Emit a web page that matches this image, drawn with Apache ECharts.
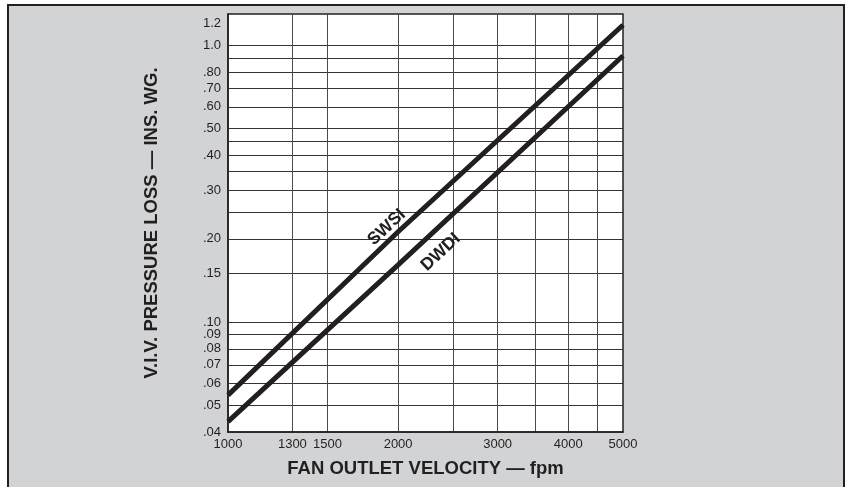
<!DOCTYPE html>
<html><head><meta charset="utf-8">
<script src="https://cdn.jsdelivr.net/npm/echarts@6/dist/echarts.min.js"></script>
<style>
html,body{margin:0;padding:0;background:#fff;}
#frame{position:absolute;left:7px;top:4px;width:838px;height:490px;background:#d2d3d5;border-left:2px solid #231f20;border-top:2.5px solid #231f20;border-right:2px solid #231f20;box-sizing:border-box;}
#chart{position:absolute;left:0;top:0;width:846px;height:487px;}
</style></head><body>
<div id="frame"></div><div id="chart"></div>
<script>
// Data
const velocity = [1000, 2000, 5000];            // fpm
const swsiLoss = [0.0544, 0.212, 1.186];        // ins. wg.
const dwdiLoss = [0.0436, 0.161, 0.918];        // ins. wg.
const xTickLabels = [1000, 1300, 1500, 2000, 3000, 4000, 5000];
const xGridValues = [1300, 1500, 2000, 2500, 3000, 3500, 4000, 4500];
const yTickValues = [0.04, 0.05, 0.06, 0.07, 0.08, 0.09, 0.10, 0.15, 0.20, 0.30, 0.40, 0.50, 0.60, 0.70, 0.80, 1.0, 1.2];
const yTickLabels = ['.04', '.05', '.06', '.07', '.08', '.09', '.10', '.15', '.20', '.30', '.40', '.50', '.60', '.70', '.80', '1.0', '1.2'];
const yGridValues = [0.05, 0.06, 0.07, 0.08, 0.09, 0.10, 0.15, 0.20, 0.25, 0.30, 0.35, 0.40, 0.45, 0.50, 0.60, 0.70, 0.80, 0.90, 1.0];
const seriesNames = ['SWSI', 'DWDI'];
const seriesNameAnchors = [[1909, 0.22], [2379, 0.179]];

const ink = '#231f20';
const tickFont = "'Liberation Sans', Arial, Helvetica, sans-serif";
const titleFont = "'Liberation Sans', Arial, Helvetica, sans-serif";

function pairs(xs, ys) { return xs.map((x, i) => [x, ys[i]]); }
function yLabel(v) {
  for (let i = 0; i < yTickValues.length; i++) {
    if (Math.abs(yTickValues[i] - v) < 1e-9) return yTickLabels[i];
  }
  return '';
}

const chart = echarts.init(document.getElementById('chart'), null, {renderer: 'canvas'});
chart.setOption({
  backgroundColor: 'transparent',
  animation: false,
  grid: {
    left: 228, right: 223, top: 14, bottom: 55,
    show: true, backgroundColor: '#ffffff', borderColor: ink, borderWidth: 1.5
  },
  xAxis: {
    type: 'log', logBase: 10, min: 1000, max: 5000,
    name: 'FAN OUTLET VELOCITY — fpm',
    nameLocation: 'middle', nameGap: 27,
    nameTextStyle: {fontFamily: titleFont, fontWeight: 'bold', fontSize: 18.5, color: ink},
    axisLine: {show: true, lineStyle: {color: ink, width: 1.5}},
    axisTick: {show: false, customValues: xGridValues},
    axisLabel: {
      customValues: xTickLabels, margin: 6,
      fontFamily: tickFont, fontSize: 13, color: ink,
      formatter: v => String(Math.round(v))
    },
    splitLine: {show: true, lineStyle: {color: '#4a4a4a', width: 1}},
    minorTick: {show: false}, minorSplitLine: {show: false}
  },
  yAxis: {
    type: 'log', logBase: 10, min: 0.04, max: 1.3,
    name: 'V.I.V. PRESSURE LOSS — INS. WG.',
    nameLocation: 'middle', nameGap: 67, nameRotate: 90,
    nameTextStyle: {fontFamily: titleFont, fontWeight: 'bold', fontSize: 18.5, color: ink},
    axisLine: {show: true, lineStyle: {color: ink, width: 1.5}},
    axisTick: {show: false, customValues: yGridValues},
    axisLabel: {
      customValues: yTickValues, margin: 7,
      fontFamily: tickFont, fontSize: 13, color: ink,
      formatter: v => yLabel(v)
    },
    splitLine: {show: true, lineStyle: {color: '#333', width: 1}},
    minorTick: {show: false}, minorSplitLine: {show: false}
  },
  series: [
    {
      name: seriesNames[0], type: 'line', data: pairs(velocity, swsiLoss),
      showSymbol: false, symbol: 'none', silent: true,
      lineStyle: {color: ink, width: 5, cap: 'butt'}
    },
    {
      name: seriesNames[1], type: 'line', data: pairs(velocity, dwdiLoss),
      showSymbol: false, symbol: 'none', silent: true,
      lineStyle: {color: ink, width: 5, cap: 'butt'}
    },
    {
      type: 'scatter', silent: true, symbolSize: 1,
      itemStyle: {color: ink, opacity: 0},
      data: seriesNameAnchors.map((p, i) => ({value: p, name: seriesNames[i]})),
      label: {
        show: true, position: 'inside', rotate: 43, opacity: 1,
        formatter: p => p.name,
        fontFamily: titleFont, fontWeight: 'bold', fontSize: 17.5,
        color: ink, textBorderWidth: 0
      }
    }
  ]
});
</script></body></html>
